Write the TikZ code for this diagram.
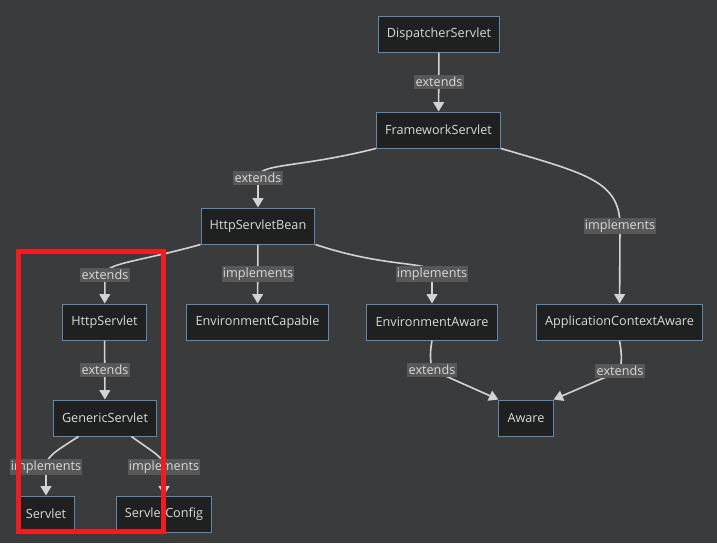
\documentclass[tikz,border=0pt]{standalone}
\usepackage{fontspec}
\setmainfont{Open Sans}
\usepackage{xcolor}
\usetikzlibrary{arrows.meta}

\definecolor{bgcol}{HTML}{3A3B3D}
\definecolor{nodefill}{HTML}{1F2020}
\definecolor{nodeline}{HTML}{6088AA}
\definecolor{nodetext}{HTML}{DADADA}
\definecolor{edgecol}{HTML}{D3D3D3}
\definecolor{lblfill}{HTML}{585858}
\definecolor{markred}{HTML}{EE1D23}

\begin{document}
\begin{tikzpicture}[
    x=0.75pt, y=-0.75pt,
    cls/.style={rectangle, draw=nodeline, fill=nodefill, line width=0.75pt, minimum height=27pt, inner xsep=6.5pt, text=nodetext, font=\fontsize{9.5}{11}\selectfont},
    lbl/.style={rectangle, fill=lblfill, inner xsep=1pt, inner ysep=1.5pt, text=nodetext, font=\fontsize{9.5}{11}\selectfont},
    edge/.style={draw=edgecol, line width=1.2pt, -{Triangle[length=7pt, width=8pt]}},
]

% Background
\fill[bgcol] (0,0) rectangle (717,543);

% Row 1: Servlet chain of Spring MVC
\node[cls] (ds) at (439,34) {DispatcherServlet};
\node[cls] (fs) at (438.5,130) {FrameworkServlet};
\node[cls] (hsb) at (258,226) {HttpServletBean};

% Row 2: Parents of HttpServletBean and FrameworkServlet
\node[cls] (hs) at (104.5,322) {HttpServlet};
\node[cls] (ec) at (257.5,322) {EnvironmentCapable};
\node[cls] (ea) at (432,322) {EnvironmentAware};
\node[cls] (aca) at (619.5,322) {ApplicationContextAware};

% Row 3: Servlet API and Aware
\node[cls] (gs) at (105,418) {GenericServlet};
\node[cls] (aw) at (526,418) {Aware};
\node[cls] (sv) at (46,514) {Servlet};
\node[cls] (sc) at (164,514) {ServletConfig};

% Label points
\coordinate (e1) at (439,82);
\coordinate (e2) at (258,178);
\coordinate (e3) at (620,226);
\coordinate (e4) at (105,275);
\coordinate (e5) at (258,274);
\coordinate (e6) at (432,274);
\coordinate (e7) at (105,370);
\coordinate (e8) at (432,370);
\coordinate (e9) at (620,371);
\coordinate (e10) at (46,467);
\coordinate (e11) at (164,467);

\draw[edge] (ds) -- (fs);
\draw[edge] (fs.south west) .. controls +(-80,20) and +(0,-15) .. (e2) -- (hsb);
\draw[edge] (fs.south east) .. controls +(85,25) and +(0,-45) .. (e3) -- (aca);
\draw[edge] (hsb.south west) .. controls +(-65,18) and +(0,-12) .. (e4) -- (hs);
\draw[edge] (hsb) -- (ec);
\draw[edge] (hsb.south east) .. controls +(75,25) and +(0,-14) .. (e6) -- (ea);
\draw[edge] (hs) -- (gs);
\draw[edge] (ea.south) to[out=-100, in=100] (e8) -- (aw.north west);
\draw[edge] (aca.south) to[out=-80, in=80] (e9) -- (aw.north east);
\draw[edge] (gs.-145) .. controls +(-25,16) and +(0,-10) .. (e10) -- (sv);
\draw[edge] (gs.-35) .. controls +(22,16) and +(0,-10) .. (e11) -- (sc);

\node[lbl] at (e1) {extends};
\node[lbl] at (e2) {extends};
\node[lbl] at (e3) {implements};
\node[lbl] at (e4) {extends};
\node[lbl] at (e5) {implements};
\node[lbl] at (e6) {implements};
\node[lbl] at (e7) {extends};
\node[lbl] at (e8) {extends};
\node[lbl] at (e9) {extends};
\node[lbl] at (e10) {implements};
\node[lbl] at (e11) {implements};

% Highlight box
\draw[markred, line width=3.4pt] (18.5,251.5) rectangle (163.5,531.5);

\end{tikzpicture}
\end{document}
